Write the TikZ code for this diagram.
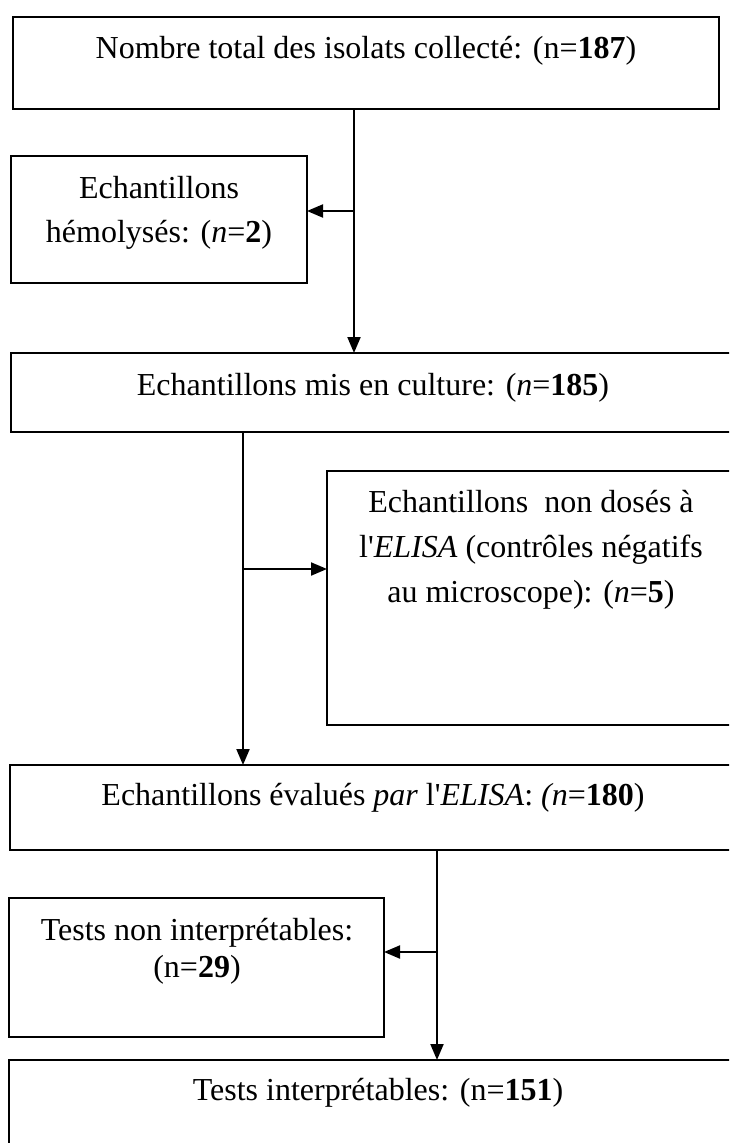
\documentclass[tikz,border=0pt]{standalone}
\usepackage{fontspec}
\setmainfont{Liberation Serif}[Ligatures=TeXOff]
\usetikzlibrary{arrows.meta}
\begin{document}
\begin{tikzpicture}[x=1pt,y=-1pt,
  box/.style={draw,line width=2pt,inner sep=0pt,outer sep=0pt,rectangle},
  txt/.style={align=center,anchor=base,inner sep=0pt},
  arr/.style={line width=2pt,-{Triangle[length=16pt,width=13pt]}}]
\useasboundingbox (0,0) rectangle (729,1143);
\clip (0,0) rectangle (729,1143);
% boxes
\node[box,minimum width=706pt,minimum height=92pt]  (b1) at (366,63) {};
\node[box,minimum width=296pt,minimum height=127pt] (b2) at (159,219.5) {};
\node[box,minimum width=724pt,minimum height=79pt]  (b3) at (373,392.5) {};
\node[box,minimum width=408pt,minimum height=254pt] (b4) at (531,598) {};
\node[box,minimum width=726pt,minimum height=85pt]  (b5) at (373,807.5) {};
\node[box,minimum width=375pt,minimum height=139pt] (b6) at (196.5,967.5) {};
\node[box,minimum width=726pt,minimum height=120pt] (b7) at (372,1120) {};
% texts (anchor base = baseline of the last line)
\node[txt,font=\fontsize{32}{44}\selectfont] (t1) at (366,58) {Nombre total des isolats collecté: (n=\textbf{187})};
\node[txt,font=\fontsize{32}{44}\selectfont] (t2) at (159,242) {Echantillons\\hémolysés: (\textit{n}=\textbf{2})};
\node[txt,font=\fontsize{32}{44}\selectfont] (t3) at (373,395) {Echantillons mis en culture: (\textit{n}=\textbf{185})};
\node[txt,font=\fontsize{32}{45}\selectfont] (t4) at (531,602) {Echantillons\ \ non dosés à\\l'\textit{ELISA} (contrôles négatifs\\au microscope): (\textit{n}=\textbf{5})};
\node[txt,font=\fontsize{32}{44}\selectfont] (t5) at (373,805) {Echantillons évalués \textit{par} l'\textit{ELISA}: \textit{(n}=\textbf{180})};
\node[txt,font=\fontsize{32}{37}\selectfont] (t6) at (197,977) {Tests non interprétables:\\(n=\textbf{29})};
\node[txt,font=\fontsize{32}{44}\selectfont] (t7) at (378,1100) {Tests interprétables: (n=\textbf{151})};
% junctions
\coordinate (j1) at (354,211);
\coordinate (j2) at (243,569);
\coordinate (j3) at (437,952);
% connectors
\draw[arr] (b1.south -| j1) -- (b3.north -| j1);
\draw[arr] (j1) -- (b2.east |- j1);
\draw[arr] (b3.south -| j2) -- (b5.north -| j2);
\draw[arr] (j2) -- (b4.west |- j2);
\draw[arr] (b5.south -| j3) -- (b7.north -| j3);
\draw[arr] (j3) -- (b6.east |- j3);
\end{tikzpicture}
\end{document}
